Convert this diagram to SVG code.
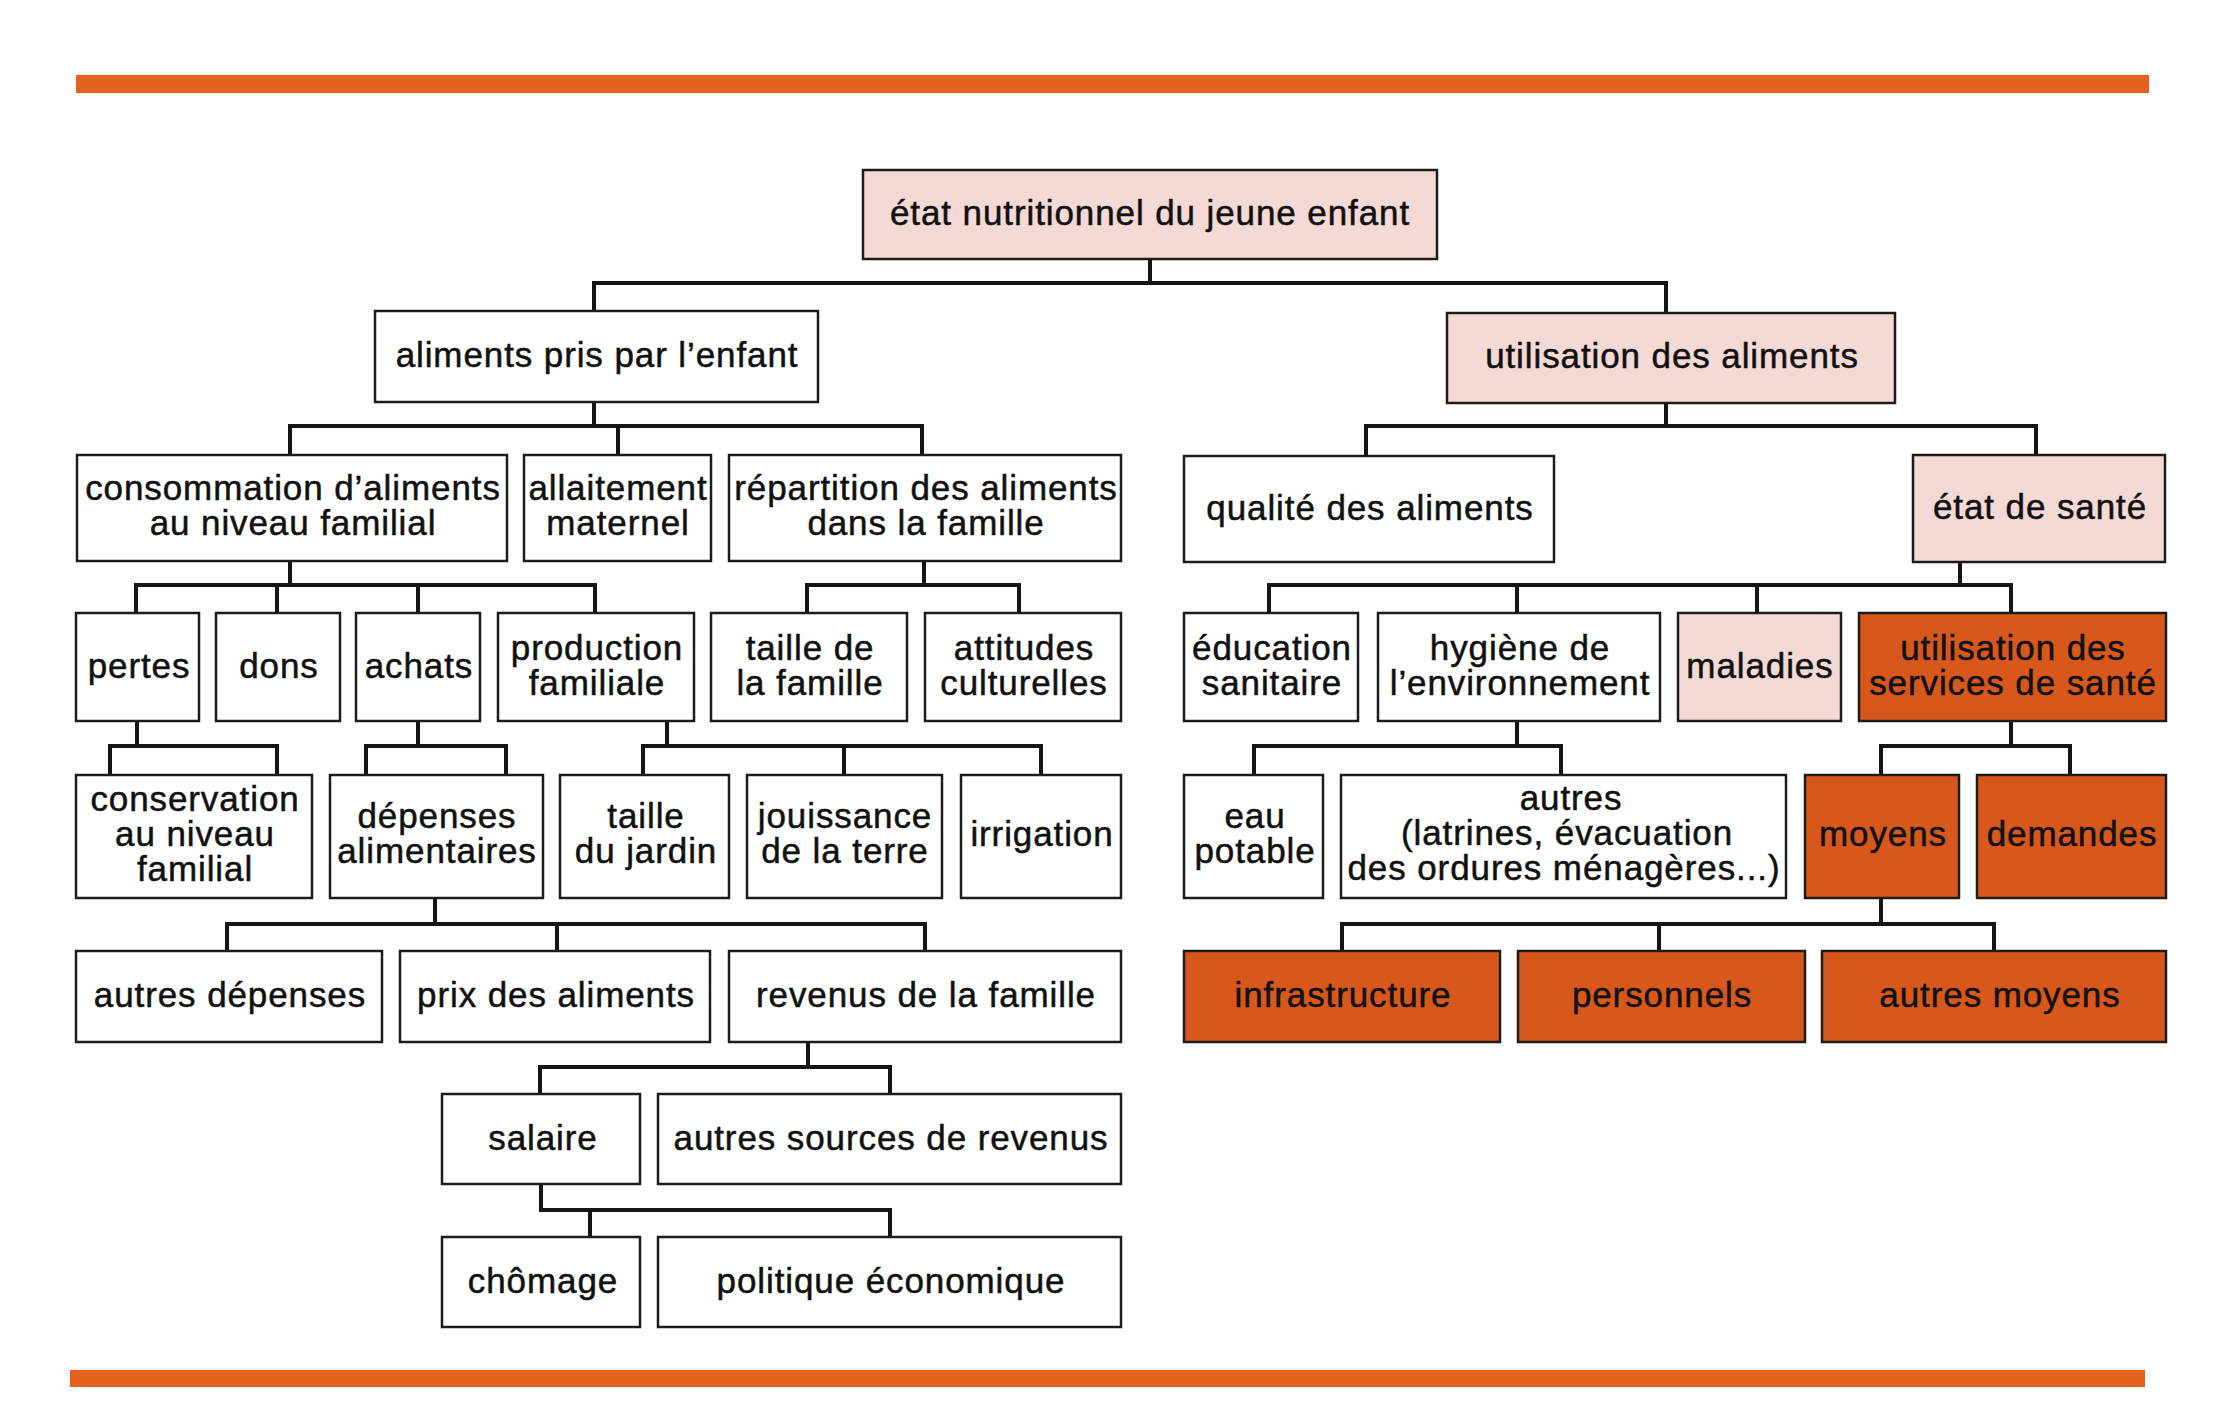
<svg xmlns="http://www.w3.org/2000/svg" width="2216" height="1412" viewBox="0 0 2216 1412">
<style>
.b{stroke:#1c1c1c;stroke-width:2.5}
.w{fill:#ffffff}
.p{fill:#f4d9d5}
.o{fill:#d8581c}
text{font-family:"Liberation Sans",Arial,sans-serif;font-size:35px;fill:#111;stroke:#111;stroke-width:0.5;letter-spacing:0.9px;text-anchor:middle}
.c{fill:none;stroke:#151515;stroke-width:4;stroke-linecap:square}
</style>
<rect width="2216" height="1412" fill="#ffffff"/>
<rect x="76" y="75" width="2073" height="18" fill="#e2621e"/>
<rect x="70" y="1370" width="2075" height="17" fill="#e2621e"/>
<g id="connectors" class="c">
<path d="M1150,259V283M594,283H1666M594,283V311M1666,283V313"/>
<path d="M594,402V426M290,426H922M290,426V455M618,426V455M922,426V455"/>
<path d="M1666,403V426M1366,426H2036M1366,426V456M2036,426V455"/>
<path d="M290,561V585M136,585H595M136,585V613M277,585V613M418,585V613M595,585V613"/>
<path d="M924,561V585M807,585H1019M807,585V613M1019,585V613"/>
<path d="M1960,562V585M1269,585H2011M1269,585V613M1517,585V613M1757,585V610M2011,585V613"/>
<path d="M137,721V746M110,746H277M110,746V775M277,746V775"/>
<path d="M418,721V746M366,746H506M366,746V775M506,746V775"/>
<path d="M667,721V746M643,746H1041M643,746V775M844,746V775M1041,746V775"/>
<path d="M1517,721V746M1254,746H1561M1254,746V775M1561,746V775"/>
<path d="M2011,721V746M1881,746H2070M1881,746V775M2070,746V775"/>
<path d="M435,898V924M227,924H925M227,924V951M557,924V951M925,924V951"/>
<path d="M1881,898V924M1342,924H1994M1342,924V951M1659,924V951M1994,924V951"/>
<path d="M808,1042V1067M540,1067H890M540,1067V1094M890,1067V1094"/>
<path d="M541,1184V1210H890M590,1210V1237M890,1210V1237"/>
</g>
<g id="root"><rect class="b p" x="863" y="170" width="574" height="89"/><text x="1150" y="225">état nutritionnel du jeune enfant</text></g>
<g id="aliments_pris"><rect class="b w" x="375" y="311" width="443" height="91"/><text x="597" y="367">aliments pris par l’enfant</text></g>
<g id="utilisation_aliments"><rect class="b p" x="1447" y="313" width="448" height="90"/><text x="1672" y="368">utilisation des aliments</text></g>
<g id="consommation"><rect class="b w" x="77" y="455" width="430" height="106"/><text x="293" y="500">consommation d’aliments</text><text x="293" y="535">au niveau familial</text></g>
<g id="allaitement"><rect class="b w" x="524" y="455" width="187" height="106"/><text x="618" y="500">allaitement</text><text x="618" y="535">maternel</text></g>
<g id="repartition"><rect class="b w" x="729" y="455" width="392" height="106"/><text x="926" y="500">répartition des aliments</text><text x="926" y="535">dans la famille</text></g>
<g id="qualite"><rect class="b w" x="1184" y="456" width="370" height="106"/><text x="1370" y="520">qualité des aliments</text></g>
<g id="etat_sante"><rect class="b p" x="1913" y="455" width="252" height="107"/><text x="2040" y="519">état de santé</text></g>
<g id="pertes"><rect class="b w" x="76" y="613" width="123" height="108"/><text x="139" y="678">pertes</text></g>
<g id="dons"><rect class="b w" x="216" y="613" width="124" height="108"/><text x="279" y="678">dons</text></g>
<g id="achats"><rect class="b w" x="356" y="613" width="124" height="108"/><text x="419" y="678">achats</text></g>
<g id="production"><rect class="b w" x="498" y="613" width="196" height="108"/><text x="597" y="660">production</text><text x="597" y="695">familiale</text></g>
<g id="taille_famille"><rect class="b w" x="711" y="613" width="196" height="108"/><text x="810" y="660">taille de</text><text x="810" y="695">la famille</text></g>
<g id="attitudes"><rect class="b w" x="925" y="613" width="196" height="108"/><text x="1024" y="660">attitudes</text><text x="1024" y="695">culturelles</text></g>
<g id="education"><rect class="b w" x="1184" y="613" width="174" height="108"/><text x="1272" y="660">éducation</text><text x="1272" y="695">sanitaire</text></g>
<g id="hygiene"><rect class="b w" x="1378" y="613" width="282" height="108"/><text x="1520" y="660">hygiène de</text><text x="1520" y="695">l’environnement</text></g>
<g id="maladies"><rect class="b p" x="1678" y="613" width="163" height="108"/><text x="1760" y="678">maladies</text></g>
<g id="services"><rect class="b o" x="1859" y="613" width="307" height="108"/><text x="2013" y="660">utilisation des</text><text x="2013" y="695">services de santé</text></g>
<g id="conservation"><rect class="b w" x="76" y="775" width="236" height="123"/><text x="195" y="811">conservation</text><text x="195" y="846">au niveau</text><text x="195" y="881">familial</text></g>
<g id="depenses"><rect class="b w" x="330" y="775" width="213" height="123"/><text x="437" y="828">dépenses</text><text x="437" y="863">alimentaires</text></g>
<g id="jardin"><rect class="b w" x="560" y="775" width="169" height="123"/><text x="646" y="828">taille</text><text x="646" y="863">du jardin</text></g>
<g id="jouissance"><rect class="b w" x="747" y="775" width="195" height="123"/><text x="845" y="828">jouissance</text><text x="845" y="863">de la terre</text></g>
<g id="irrigation"><rect class="b w" x="961" y="775" width="160" height="123"/><text x="1042" y="846">irrigation</text></g>
<g id="eau"><rect class="b w" x="1184" y="775" width="139" height="123"/><text x="1255" y="828">eau</text><text x="1255" y="863">potable</text></g>
<g id="autres_hyg"><rect class="b w" x="1341" y="775" width="445" height="123"/><text x="1571" y="810">autres</text><text x="1567" y="845">(latrines, évacuation</text><text x="1564" y="880">des ordures ménagères...)</text></g>
<g id="moyens"><rect class="b o" x="1805" y="775" width="154" height="123"/><text x="1883" y="846">moyens</text></g>
<g id="demandes"><rect class="b o" x="1977" y="775" width="189" height="123"/><text x="2072" y="846">demandes</text></g>
<g id="autres_depenses"><rect class="b w" x="76" y="951" width="306" height="91"/><text x="230" y="1007">autres dépenses</text></g>
<g id="prix"><rect class="b w" x="400" y="951" width="310" height="91"/><text x="556" y="1007">prix des aliments</text></g>
<g id="revenus"><rect class="b w" x="729" y="951" width="392" height="91"/><text x="926" y="1007">revenus de la famille</text></g>
<g id="infrastructure"><rect class="b o" x="1184" y="951" width="316" height="91"/><text x="1343" y="1007">infrastructure</text></g>
<g id="personnels"><rect class="b o" x="1518" y="951" width="287" height="91"/><text x="1662" y="1007">personnels</text></g>
<g id="autres_moyens"><rect class="b o" x="1822" y="951" width="344" height="91"/><text x="2000" y="1007">autres moyens</text></g>
<g id="salaire"><rect class="b w" x="442" y="1094" width="198" height="90"/><text x="543" y="1150">salaire</text></g>
<g id="autres_sources"><rect class="b w" x="658" y="1094" width="463" height="90"/><text x="891" y="1150">autres sources de revenus</text></g>
<g id="chomage"><rect class="b w" x="442" y="1237" width="198" height="90"/><text x="543" y="1293">chômage</text></g>
<g id="politique"><rect class="b w" x="658" y="1237" width="463" height="90"/><text x="891" y="1293">politique économique</text></g>
</svg>
